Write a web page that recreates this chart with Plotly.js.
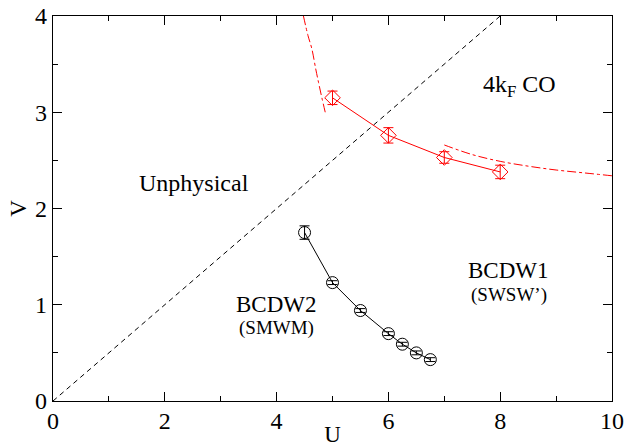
<!DOCTYPE html>
<html><head><meta charset="utf-8">
<script src="https://cdn.plot.ly/plotly-3.0.1.min.js"></script>
<style>html,body{margin:0;padding:0;background:#fff}#plot{width:624px;height:447px}</style>
</head><body><div id="plot"></div>
<script>
// BCDW2 boundary (black circles)
const blackU = [4.5, 5.0, 5.5, 6.0, 6.25, 6.5, 6.75];
const blackV = [1.75, 1.23, 0.94, 0.70, 0.59, 0.50, 0.43];
const blackErr = [0.07, 0.02, 0.02, 0.02, 0.02, 0.02, 0.02];
// 4kF CO boundary (red diamonds)
const redU = [5, 6, 7, 8];
const redV = [3.15, 2.76, 2.53, 2.38];
const redErr = [0.07, 0.08, 0.06, 0.07];
// dashed diagonal U = 2V
const diagU = [0, 8];
const diagV = [0, 4];
// dash-dot guide curves
const curveAU = [4.48, 4.56, 4.63, 4.70, 4.75, 4.81, 4.87];
const curveAV = [4.0, 3.8, 3.66, 3.45, 3.31, 3.15, 3.0];
const curveBU = [7.0, 7.5, 8.0, 8.5, 9.0, 9.5, 10.0];
const curveBV = [2.66, 2.56, 2.49, 2.44, 2.40, 2.37, 2.34];
// labels
const labels = [
  {t: 'Unphysical', u: 2.53, v: 2.27, s: 24},
  {t: '4k<sub>F</sub> CO', u: 8.35, v: 3.27, s: 24},
  {t: 'BCDW1', u: 8.15, v: 1.36, s: 23},
  {t: "(SWSW’)", u: 8.15, v: 1.1, s: 19},
  {t: 'BCDW2', u: 4.0, v: 1.0, s: 23},
  {t: '(SMWM)', u: 4.0, v: 0.76, s: 19}
];

const font = 'Liberation Serif';
const traces = [
  {x: diagU, y: diagV, mode: 'lines', line: {color: '#000', width: 1, dash: '5px,4px'}, hoverinfo: 'skip'},
  {x: curveAU, y: curveAV, mode: 'lines', line: {color: '#ff0000', width: 1, dash: 'dashdot', shape: 'spline'}},
  {x: curveBU, y: curveBV, mode: 'lines', line: {color: '#ff0000', width: 1, dash: 'dashdot', shape: 'spline'}},
  {x: blackU, y: blackV, mode: 'lines+markers', line: {color: '#000', width: 1},
   marker: {symbol: 'circle-open', size: 12, color: '#000', line: {width: 1}},
   error_y: {type: 'data', array: blackErr, visible: true, color: '#000', thickness: 1, width: 5}},
  {x: redU, y: redV, mode: 'lines+markers', line: {color: '#ff0000', width: 1},
   marker: {symbol: 'diamond-open', size: 12, color: '#ff0000', line: {width: 1}},
   error_y: {type: 'data', array: redErr, visible: true, color: '#ff0000', thickness: 1, width: 5}}
];

const axisCommon = {
  showgrid: false, zeroline: false, showline: true, linecolor: '#000', linewidth: 1.3,
  mirror: 'ticks', ticks: 'inside', ticklen: 9, tickwidth: 1, tickcolor: '#000',
  tickfont: {family: font, size: 24, color: '#000'}
};

const layout = {
  width: 624, height: 447,
  font: {family: font, color: '#000'},
  margin: {l: 53, r: 12, t: 16, b: 46},
  paper_bgcolor: '#fff', plot_bgcolor: '#fff',
  showlegend: false,
  xaxis: Object.assign({}, axisCommon, {range: [0, 10], dtick: 2, tick0: 0, ticklabelstandoff: -2,
    minor: {dtick: 1, ticks: 'inside', ticklen: 5, tickcolor: '#000'},
    title: {text: 'U', font: {family: font, size: 23, color: '#000'}, standoff: 0}}),
  yaxis: Object.assign({}, axisCommon, {range: [0, 4], dtick: 1, tick0: 0,
    minor: {dtick: 0.5, ticks: 'inside', ticklen: 5, tickcolor: '#000'},
    title: {text: 'V', font: {family: font, size: 23, color: '#000'}, standoff: 2}}),
  annotations: labels.map(l => ({x: l.u, y: l.v, xref: 'x', yref: 'y', text: l.t, showarrow: false,
    font: {family: font, size: l.s, color: '#000'}}))
};

Plotly.newPlot('plot', traces, layout, {staticPlot: true});
</script></body></html>
